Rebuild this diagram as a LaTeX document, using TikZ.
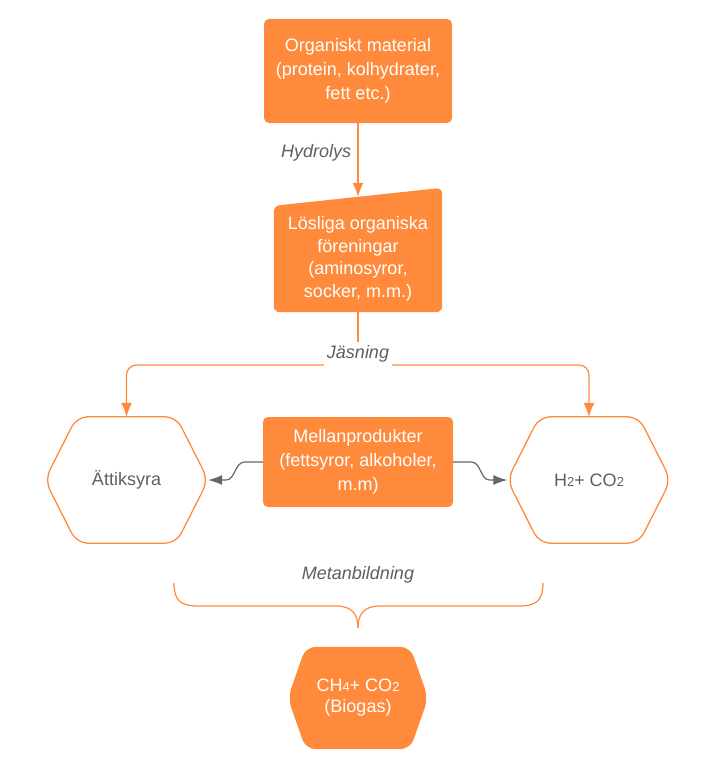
\documentclass[tikz,border=0pt]{standalone}
\usepackage{fontspec}
\setmainfont{Liberation Sans}
\usetikzlibrary{arrows.meta,positioning,backgrounds}
\definecolor{lcorange}{HTML}{FF8A3B}
\definecolor{lcgrey}{HTML}{5F5F5F}
\definecolor{arrowgrey}{HTML}{666666}
\newcommand{\chemsub}[1]{{\fontsize{13}{13}\selectfont #1}}
\tikzset{%
	procbox/.style    = {rectangle, fill=lcorange, rounded corners=5pt, text=white, align=center, font=\fontsize{18}{24}\selectfont},
	shapebox/.style   = {rectangle, text=white, align=center, font=\fontsize{18}{22.5}\selectfont}, % text of a drawn shape
	hexbox/.style     = {rectangle, minimum width=163pt, minimum height=126pt, text=lcgrey, align=center, font=\fontsize{18}{24}\selectfont},
	hexline/.style    = {draw=lcorange, line width=1.3pt, rounded corners=11pt},
	phaselabel/.style = {fill=white, text=lcgrey, font=\itshape\fontsize{18}{24}\selectfont},
	conn/.style       = {draw=lcorange, line width=1.2pt},
	arrow/.style      = {conn, -{Latex[length=14pt,width=11pt]}},
	greyarrow/.style  = {draw=arrowgrey, line width=1.2pt, -{Latex[length=14pt,width=10pt]}},
}

\begin{document}
\begin{tikzpicture}[x=1pt,y=-1pt]
	\useasboundingbox (0,0) rectangle (703,784);
	\node [procbox, minimum width=188pt, minimum height=104pt] (org) at (358,71) {Organiskt material\\(protein, kolhydrater,\\fett etc.)};
	\node [shapebox, minimum width=168pt, minimum height=106pt] (losl) at (358,259) {Lösliga organiska\\föreningar\\(aminosyror,\\socker, m.m.)};
	\node [procbox, minimum width=190pt, minimum height=90pt] (mellan) at (358,462) {Mellanprodukter\\(fettsyror, alkoholer,\\m.m)};
	\node [hexbox] (att) at (126.5,480) {Ättiksyra};
	\node [hexbox] (vatgas) at (589,480) {H\chemsub{2}+ CO\chemsub{2}};
	\node [hexbox, minimum width=140pt, minimum height=102pt, text=white, font=\fontsize{18}{21}\selectfont] (biogas) at (358,698) {CH\chemsub{4}+ CO\chemsub{2}\\(Biogas)};
	\coordinate (jas) at (358,365);
	\coordinate (bracetip) at (358,628);
	
	\begin{pgfonlayer}{background}
		\fill [lcorange, rounded corners=6pt] (losl.south) -- (losl.south west) -- (losl.north west) -- ([yshift=18pt]losl.north east) -- (losl.south east) -- cycle;
		\fill [lcorange, rounded corners=10pt] (biogas.north) -- ([xshift=-18pt]biogas.north east) -- (biogas.east) -- ([xshift=-18pt]biogas.south east) -- ([xshift=18pt]biogas.south west) -- (biogas.west) -- ([xshift=18pt]biogas.north west) -- cycle;
	\end{pgfonlayer}
	\draw [hexline] (att.north) -- ([xshift=-32pt]att.north east) -- (att.east) -- ([xshift=-32pt]att.south east) -- ([xshift=32pt]att.south west) -- (att.west) -- ([xshift=32pt]att.north west) -- cycle;
	\draw [hexline] (vatgas.north) -- ([xshift=-32pt]vatgas.north east) -- (vatgas.east) -- ([xshift=-32pt]vatgas.south east) -- ([xshift=32pt]vatgas.south west) -- (vatgas.west) -- ([xshift=32pt]vatgas.north west) -- cycle;
	
	\draw [arrow] (org.south) -- node[phaselabel, left, fill=none, pos=0.4, xshift=-3pt] {Hydrolys} ([yshift=9pt]losl.north);
	\draw [conn] (losl.south) -- (jas);
	\draw [arrow, rounded corners=10pt] (jas) -| (att.north);
	\draw [arrow, rounded corners=10pt] (jas) -| (vatgas.north);
	\node [phaselabel] (jasning) at (358,354) {Jäsning};
	
	\draw [greyarrow] (mellan.west) -- ([xshift=-18pt]mellan.west) .. controls ([xshift=-28pt]mellan.west) and ([xshift=27pt]att.east) .. ([xshift=18pt]att.east) -- (att.east);
	\draw [greyarrow] (mellan.east) -- ([xshift=18pt]mellan.east) .. controls ([xshift=28pt]mellan.east) and ([xshift=-27pt]vatgas.west) .. ([xshift=-18pt]vatgas.west) -- (vatgas.west);
	
	\draw [conn] (174,583) .. controls (174,600) and (180,606) .. (198,606) -- (336,606) .. controls (352,606) and (358,614) .. (bracetip);
	\draw [conn] (543,583) .. controls (543,600) and (537,606) .. (519,606) -- (380,606) .. controls (364,606) and (358,614) .. (bracetip);
	\node [phaselabel] (metan) at (358,575) {Metanbildning};
\end{tikzpicture}
\end{document}
